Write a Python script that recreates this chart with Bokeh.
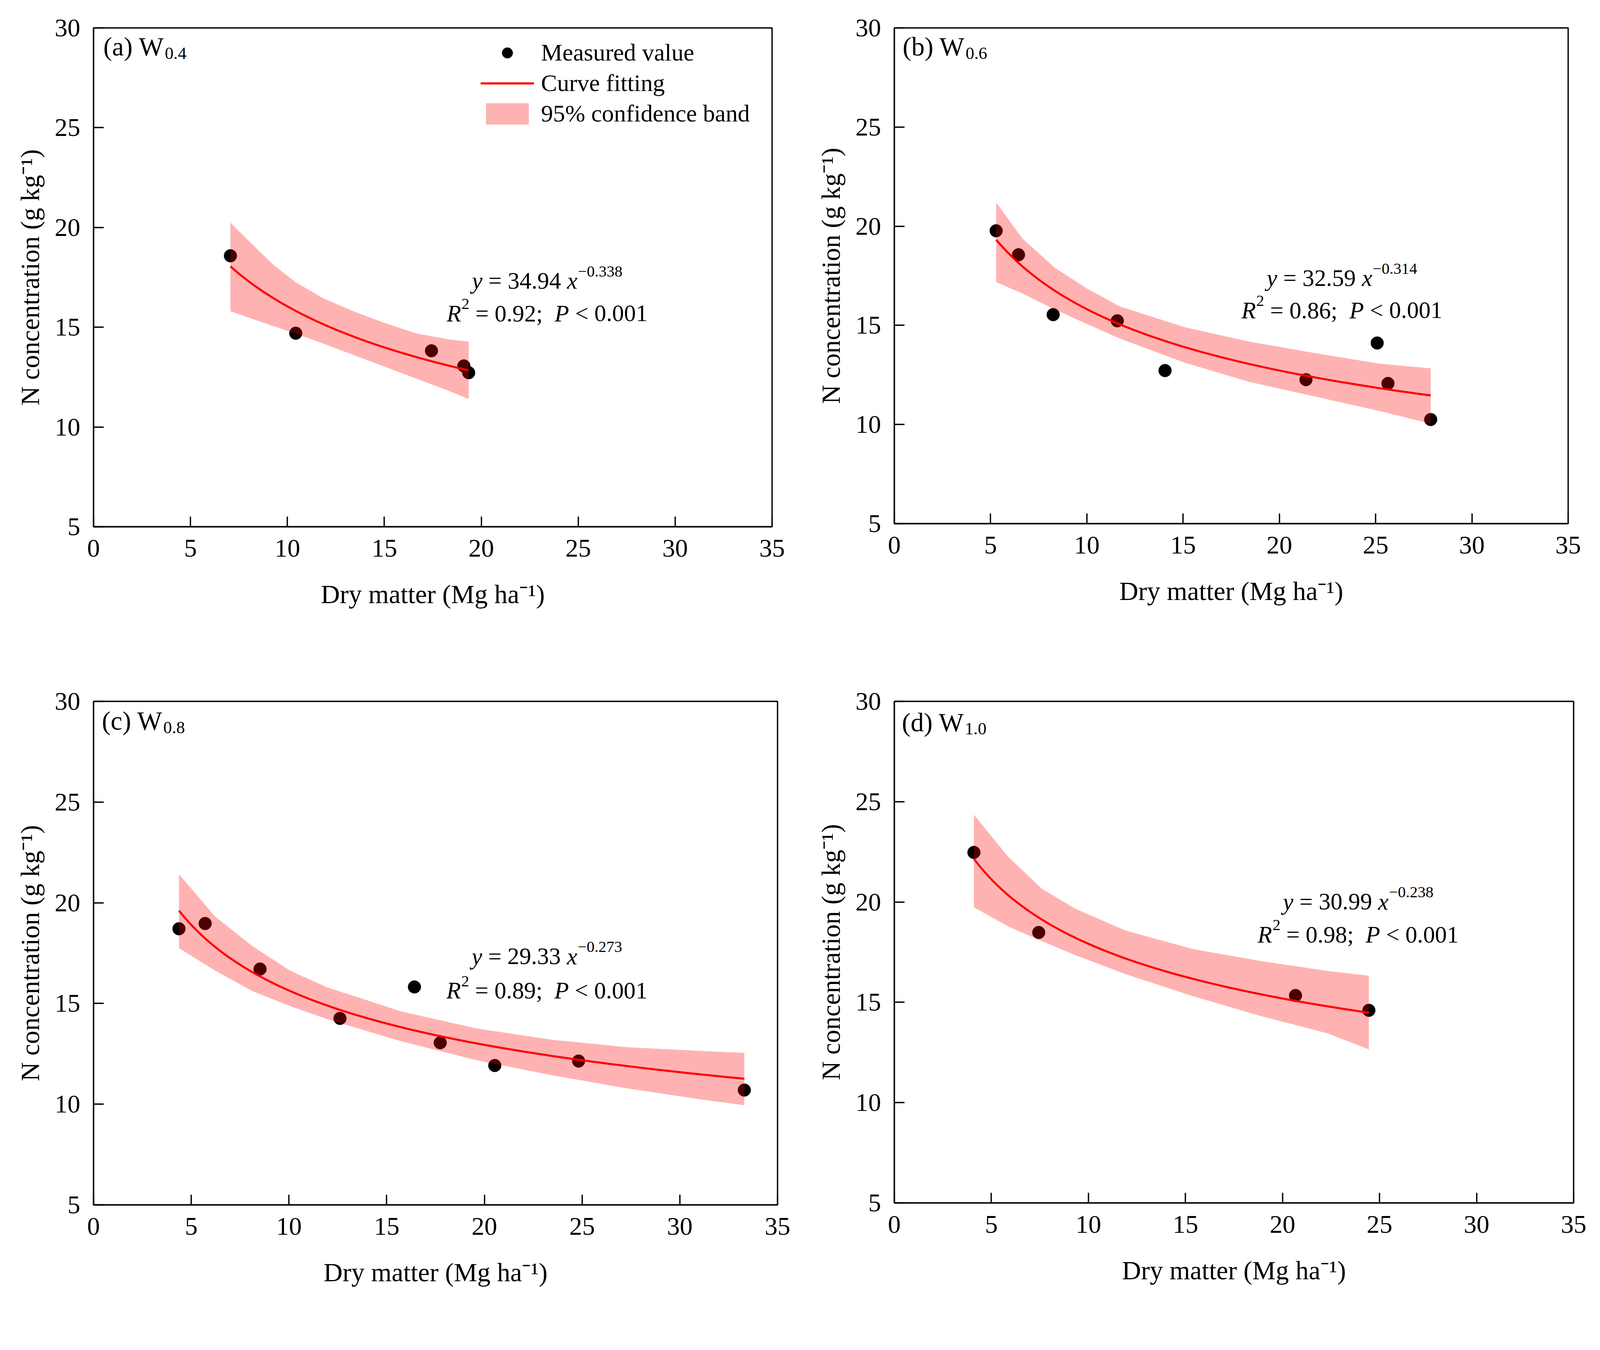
import numpy as np
from bokeh.plotting import figure
from bokeh.layouts import gridplot
from bokeh.models import Legend, LegendItem, FixedTicker, Range1d
from bokeh.core.properties import value
from bokeh.embed import file_html
from bokeh.resources import INLINE

FONT = "Liberation Serif"

# ---------------- data ----------------
# measured points (dry matter, N concentration)
a_x = [7.06, 10.43, 17.43, 19.10, 19.35]
a_y = [18.58, 14.70, 13.82, 13.06, 12.72]
b_x = [5.29, 6.45, 8.25, 11.58, 14.06, 21.38, 25.08, 25.64, 27.86]
b_y = [19.77, 18.56, 15.54, 15.23, 12.72, 12.26, 14.11, 12.07, 10.25]
c_x = [4.37, 5.71, 8.52, 12.61, 16.42, 17.74, 20.53, 24.82, 33.30]
c_y = [18.71, 18.97, 16.71, 14.26, 15.82, 13.05, 11.92, 12.14, 10.70]
d_x = [4.10, 7.44, 20.67, 24.45]
d_y = [22.47, 18.48, 15.34, 14.60]

# fitted power curves y = A * x^B (as printed on the chart)
fit_A = {"a": 34.94, "b": 32.59, "c": 29.33, "d": 30.99}
fit_B = {"a": -0.338, "b": -0.314, "c": -0.273, "d": -0.238}
fit_R2 = {"a": "0.92", "b": "0.86", "c": "0.89", "d": "0.98"}

# 95% confidence band
a_bx = [7.06, 7.98, 9.27, 10.43, 11.85, 13.47, 15.08, 16.69, 18.31, 19.35]
a_hi = [20.24, 19.35, 18.13, 17.25, 16.45, 15.77, 15.19, 14.68, 14.39, 14.28]
a_lo = [15.80, 15.49, 15.06, 14.68, 14.18, 13.59, 13.00, 12.41, 11.82, 11.40]
b_bx = [5.29, 6.65, 8.33, 10.00, 11.70, 15.07, 18.43, 21.80, 25.17, 27.86]
b_hi = [21.20, 19.38, 17.91, 16.86, 15.96, 14.91, 14.18, 13.61, 13.07, 12.83]
b_lo = [17.18, 16.61, 15.80, 15.07, 14.34, 13.12, 12.15, 11.42, 10.69, 10.04]
c_bx = [4.37, 6.22, 8.14, 10.05, 11.96, 15.79, 19.61, 23.44, 27.27, 31.10, 33.30]
c_hi = [21.42, 19.32, 17.84, 16.63, 15.80, 14.59, 13.76, 13.20, 12.83, 12.64, 12.55]
c_lo = [17.75, 16.63, 15.61, 14.87, 14.22, 13.11, 12.18, 11.44, 10.79, 10.23, 9.95]
d_bx = [4.10, 5.87, 7.60, 9.33, 11.93, 15.40, 18.86, 22.33, 24.45]
d_hi = [24.35, 22.25, 20.66, 19.66, 18.57, 17.65, 17.06, 16.56, 16.32]
d_lo = [19.74, 18.78, 18.05, 17.35, 16.40, 15.30, 14.32, 13.45, 12.65]

panel_letter = ["(a)", "(b)", "(c)", "(d)"]
panel_sub = ["0.4", "0.6", "0.8", "1.0"]
x_ticks = [0, 5, 10, 15, 20, 25, 30, 35]
y_ticks = [5, 10, 15, 20, 25, 30]
x_label = "Dry matter (Mg ha\u207b\u00b9)"
y_label = "N concentration (g kg\u207b\u00b9)"
legend_labels = ["Measured value", "Curve fitting", "95% confidence band"]

# ---------------- layout / style ----------------
S = 0.964  # global pixel scale
TEXT_LIFT = 28  # design px: raise free text glyphs


def px(v):
    return v * S


GEOM = {
    "a": dict(fw=1802, fh=1325, bl=246, br=72, bt=64, bb=411),
    "b": dict(fw=1789, fh=1316, bl=254, br=72, bt=74, bb=410),
    "c": dict(fw=1816, fh=1337, bl=248, br=56, bt=62, bb=241),
    "d": dict(fw=1804, fh=1332, bl=242, br=69, bt=48, bb=260),
}
ANNOT = {  # centre x and two baselines (data units)
    "a": (23.4, 16.80, 15.17),
    "b": (23.25, 16.85, 15.23),
    "c": (23.2, 16.82, 15.12),
    "d": (23.9, 19.49, 17.85),
}
LABEL_OFF = {"a": (26, 78), "b": (22, 78), "c": (22, 80), "d": (20, 84)}

REG = {" ": .25, ".": .25, "=": .564, "<": .564, ";": .278, "\u2212": .564,
       "(": .333, ")": .333, "a": .444, "b": .5, "c": .444, "d": .5, "W": .944}
ITA = {"y": .444, "x": .444, "R": .611, "P": .611}


def tw(s, size, italic=False):
    tab = ITA if italic else REG
    return sum(tab.get(ch, 0.5) for ch in s) * size


def fs(v):
    return f"{v * S:.1f}px"


def put_pieces(p, cx, yb, pieces, ypx):
    """pieces: (text, size, italic, raise_px, gap_before_px) in design px; centred on cx."""
    total = sum(tw(t, s, it) + g for t, s, it, r, g in pieces)
    off = -total / 2.0
    for t, s, it, r, g in pieces:
        off += g
        p.text(x=[cx], y=[yb + (r + TEXT_LIFT) / ypx], text=[t], x_offset=px(off),
               text_font=value(FONT), text_font_size=fs(s),
               text_font_style="italic" if it else "normal",
               text_align="left", text_baseline="alphabetic", text_color="black")
        off += tw(t, s, it)


def make_panel(i, key, xs, ys, bx, lo, hi):
    g = GEOM[key]
    fw, fh = g["fw"], g["fh"]
    xpx, ypx = fw / 35.0, fh / 25.0  # design px per data unit
    p = figure(frame_width=round(px(fw)), frame_height=round(px(fh)),
               x_range=Range1d(0, 35), y_range=Range1d(5, 30),
               output_backend="svg", toolbar_location=None,
               min_border_left=round(px(g["bl"])), min_border_right=round(px(g["br"])),
               min_border_top=round(px(g["bt"])), min_border_bottom=round(px(g["bb"])))
    p.grid.visible = False
    p.outline_line_color = "black"
    p.outline_line_width = px(3.5)
    p.background_fill_color = "white"
    p.border_fill_color = "white"

    for ax, ticks in ((p.xaxis, x_ticks), (p.yaxis, y_ticks)):
        ax.ticker = FixedTicker(ticks=ticks)
        ax.axis_line_width = px(3.5)
        ax.major_tick_line_width = px(3.5)
        ax.major_tick_in = round(px(27))
        ax.major_tick_out = 0
        ax.minor_tick_line_color = None
        ax.major_label_text_font = FONT
        ax.major_label_text_font_size = fs(68)
        ax.major_label_text_color = "black"
        ax.axis_label_text_font = FONT
        ax.axis_label_text_font_size = fs(70)
        ax.axis_label_text_font_style = "normal"
        ax.axis_label_text_color = "black"
    p.xaxis.axis_label = x_label
    p.yaxis.axis_label = y_label
    p.xaxis.major_label_standoff = round(px(34))
    p.yaxis.major_label_standoff = round(px(35))
    p.xaxis.axis_label_standoff = round(px(58))
    p.yaxis.axis_label_standoff = round(px(23))

    sc = p.scatter(xs, ys, marker="circle", size=px(34), fill_color="black", line_color="black")
    band = p.varea(x=bx, y1=lo, y2=hi, fill_color="#ff0000", fill_alpha=0.3)
    cxs = np.linspace(min(xs), max(xs), 120)
    cys = fit_A[key] * cxs ** fit_B[key]
    ln = p.line(cxs, cys, line_color="#ff0000", line_width=px(5.5))

    # panel label (x) W_sub
    lx, ly = LABEL_OFF[key]
    x0 = lx / xpx
    y0 = 30 - (ly - TEXT_LIFT) / ypx
    main = panel_letter[i] + " W"
    p.text(x=[x0], y=[y0], text=[main], text_font=value(FONT), text_font_size=fs(70),
           text_align="left", text_baseline="alphabetic", text_color="black")
    p.text(x=[x0], y=[y0 - 17 / ypx], text=[panel_sub[i]], x_offset=px(tw(main, 70) + 2),
           text_font=value(FONT), text_font_size=fs(46),
           text_align="left", text_baseline="alphabetic", text_color="black")

    # equation annotation
    cx, y1, y2 = ANNOT[key]
    A, B = fit_A[key], fit_B[key]
    sp = tw(" ", 63)
    expo = "\u2212" + "0" + f"{abs(B):.3f}"[1:]
    put_pieces(p, cx, y1, [("y", 63, True, 0, 0), ("=", 63, False, 0, sp),
                           (f"{A:.2f}", 63, False, 0, sp), ("x", 63, True, 0, sp),
                           (expo, 42, False, 25, 1)], ypx)
    put_pieces(p, cx, y2, [("R", 63, True, 0, 0), ("2", 42, False, 25, 1),
                           ("=", 63, False, 0, sp), (f"{fit_R2[key]};", 63, False, 0, sp),
                           ("P", 63, True, 0, 2 * sp), ("<", 63, False, 0, sp),
                           ("0.001", 63, False, 0, sp)], ypx)

    if key == "a":
        leg = Legend(items=[LegendItem(label=legend_labels[0], renderers=[sc]),
                            LegendItem(label=legend_labels[1], renderers=[ln]),
                            LegendItem(label=legend_labels[2], renderers=[band])],
                     location=(px(1028), px(1060)), border_line_color=None,
                     background_fill_alpha=0, padding=0, spacing=round(px(7)),
                     glyph_width=round(px(142)), glyph_height=round(px(71)),
                     label_height=round(px(71)), label_standoff=round(px(19)),
                     label_text_font=FONT, label_text_font_size=fs(64),
                     label_text_color="black", margin=0)
        p.add_layout(leg)
    return p


pa = make_panel(0, "a", a_x, a_y, a_bx, a_lo, a_hi)
pb = make_panel(1, "b", b_x, b_y, b_bx, b_lo, b_hi)
pc = make_panel(2, "c", c_x, c_y, c_bx, c_lo, c_hi)
pd = make_panel(3, "d", d_x, d_y, d_bx, d_lo, d_hi)

grid = gridplot([[pa, pb], [pc, pd]], toolbar_location=None)
open("out.html", "w").write(file_html(grid, INLINE))
